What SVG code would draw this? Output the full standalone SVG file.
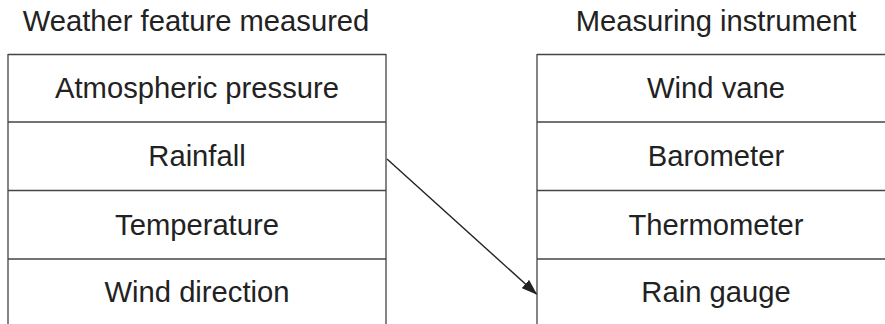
<svg xmlns="http://www.w3.org/2000/svg" width="885" height="324" viewBox="0 0 885 324">
  <style>
    .t { font-family: "Liberation Sans", Arial, sans-serif; font-size: 29.2px; fill: #222; text-anchor: middle; }
    .h { stroke: #444; stroke-width: 1.4; fill: none; }
    .v { stroke: #666; stroke-width: 1.6; fill: none; }
    .c { stroke: #222; stroke-width: 1.4; fill: none; }
  </style>
  <defs>
    <marker id="ah" markerWidth="16" markerHeight="11" refX="15" refY="5.5" orient="auto" markerUnits="userSpaceOnUse" viewBox="0 0 16 11">
      <path d="M0,0 L16,5.5 L0,11 Z" fill="#222"/>
    </marker>
  </defs>
  <rect width="885" height="324" fill="#fff"/>

  <g id="header-left"><text class="t" x="196" y="31">Weather feature measured</text></g>
  <g id="header-right"><text class="t" x="716" y="31">Measuring instrument</text></g>

  <g id="table-frame">
    <line class="v" x1="8" y1="54" x2="8" y2="324"/>
    <line class="v" x1="386" y1="54" x2="386" y2="324"/>
    <line class="v" x1="537" y1="54" x2="537" y2="324"/>
  </g>

  <g id="feature-pressure">
    <line class="h" x1="8" y1="54.5" x2="386" y2="54.5"/>
    <text class="t" x="197" y="97.5">Atmospheric pressure</text>
  </g>
  <g id="feature-rainfall">
    <line class="h" x1="8" y1="122" x2="386" y2="122"/>
    <text class="t" x="197" y="166">Rainfall</text>
  </g>
  <g id="feature-temperature">
    <line class="h" x1="8" y1="190.5" x2="386" y2="190.5"/>
    <text class="t" x="197" y="234.5">Temperature</text>
  </g>
  <g id="feature-wind">
    <line class="h" x1="8" y1="259" x2="386" y2="259"/>
    <text class="t" x="197" y="302">Wind direction</text>
  </g>

  <g id="instrument-vane">
    <line class="h" x1="537" y1="54.5" x2="885" y2="54.5"/>
    <text class="t" x="716" y="97.5">Wind vane</text>
  </g>
  <g id="instrument-barometer">
    <line class="h" x1="537" y1="122" x2="885" y2="122"/>
    <text class="t" x="716" y="166">Barometer</text>
  </g>
  <g id="instrument-thermometer">
    <line class="h" x1="537" y1="190.5" x2="885" y2="190.5"/>
    <text class="t" x="716" y="234.5">Thermometer</text>
  </g>
  <g id="instrument-raingauge">
    <line class="h" x1="537" y1="259" x2="885" y2="259"/>
    <text class="t" x="716" y="302">Rain gauge</text>
  </g>

  <g id="connectors">
    <line class="c" x1="387" y1="159" x2="536.5" y2="294" marker-end="url(#ah)"/>
  </g>
</svg>
